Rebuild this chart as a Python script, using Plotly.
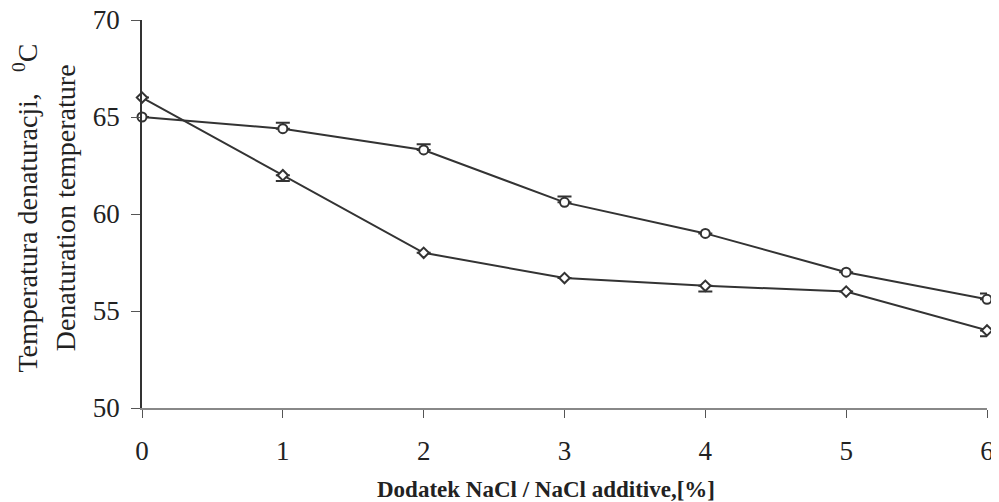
import plotly.graph_objects as go

x_vals = [0, 1, 2, 3, 4, 5, 6]
circle_vals = [65.0, 64.4, 63.3, 60.6, 59.0, 57.0, 55.6]
circle_err_plus = [0, 0.3, 0.3, 0.3, 0, 0, 0.3]
diamond_vals = [66.0, 62.0, 58.0, 56.7, 56.3, 56.0, 54.0]
diamond_err_minus = [0, 0.3, 0, 0, 0.3, 0, 0.3]
y_ticks = [50, 55, 60, 65, 70]

line_col = "#333333"
fig = go.Figure()
fig.add_trace(go.Scatter(
    x=x_vals, y=circle_vals, mode="lines+markers",
    line=dict(color=line_col, width=2),
    marker=dict(symbol="circle", size=9, color="white", line=dict(color=line_col, width=2)),
    error_y=dict(type="data", symmetric=False, array=circle_err_plus,
                 arrayminus=[0]*7, color=line_col, thickness=2, width=7),
    showlegend=False, cliponaxis=False))
fig.add_trace(go.Scatter(
    x=x_vals, y=diamond_vals, mode="lines+markers",
    line=dict(color=line_col, width=2),
    marker=dict(symbol="diamond", size=8, color="white", line=dict(color=line_col, width=2)),
    error_y=dict(type="data", symmetric=False, array=[0]*7,
                 arrayminus=diamond_err_minus, color=line_col, thickness=2, width=7),
    showlegend=False, cliponaxis=False))

fig.update_layout(
    width=991, height=494,
    margin=dict(l=134, r=12, t=12, b=94),
    plot_bgcolor="white", paper_bgcolor="white",
    font=dict(family="Liberation Serif", color="#222222"),
    xaxis=dict(range=[0, 6], tickvals=x_vals, ticks="outside", ticklen=8, tickcolor="#555",
               showline=True, linecolor="#888", linewidth=1.5, showgrid=False, zeroline=False,
               tickfont=dict(size=27, family="Liberation Serif", color="#222"),
               ticklabelstandoff=10, ticklabeloverflow="allow", automargin=False),
    yaxis=dict(range=[50, 70], tickvals=y_ticks, ticks="outside", ticklen=9, tickcolor="#555",
               showline=True, linecolor="#333", linewidth=1.5, showgrid=False, zeroline=False,
               tickfont=dict(size=27, family="Liberation Serif", color="#222"),
               ticklabelstandoff=6, ticklabeloverflow="allow", automargin=False),
)
fig.add_annotation(text="Temperatura denaturacji,   <sup>0</sup>C", xref="paper", yref="paper",
                   x=-0.138, y=0.515, textangle=-90, showarrow=False, xanchor="center", yanchor="middle",
                   font=dict(size=28, family="Liberation Serif", color="#222"))
fig.add_annotation(text="Denaturation temperature", xref="paper", yref="paper",
                   x=-0.091, y=0.515, textangle=-90, showarrow=False, xanchor="center", yanchor="middle",
                   font=dict(size=28, family="Liberation Serif", color="#222"))
fig.add_annotation(text="<b>Dodatek NaCl / NaCl additive,[%]</b>", xref="paper", yref="paper",
                   x=0.478, y=-0.21, showarrow=False, xanchor="center", yanchor="middle",
                   font=dict(size=23, family="Liberation Serif", color="#222"))
fig.write_html("out.html")
